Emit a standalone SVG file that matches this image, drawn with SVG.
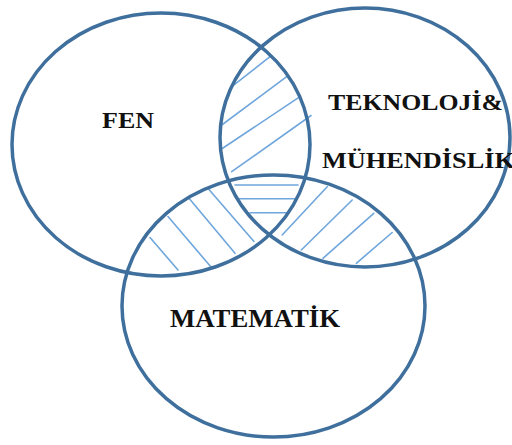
<svg xmlns="http://www.w3.org/2000/svg" width="512" height="445" viewBox="0 0 512 445">
<style>
.ring{fill:none;stroke:#3f6f9d;stroke-width:3.5}
.hatch{stroke:#6fa6dc;stroke-width:1.6;stroke-linecap:round;fill:none}
.lbl{font-family:"Liberation Serif","Times New Roman",serif;font-weight:bold;fill:#111;lengthAdjust:spacingAndGlyphs}
</style>
<rect width="512" height="445" fill="#fff"/>
<g id="hatching" class="connectors">
<g id="hatch-fen-tek">
<line class="hatch" x1="231.7" y1="86.7" x2="270" y2="56.7"/>
<line class="hatch" x1="221.7" y1="125" x2="286.7" y2="76.7"/>
<line class="hatch" x1="220" y1="150" x2="300" y2="96.7"/>
<line class="hatch" x1="231.7" y1="171.7" x2="311" y2="115.5"/>
</g>
<g id="hatch-center">
<line class="hatch" x1="235" y1="185" x2="298" y2="185"/>
<line class="hatch" x1="238" y1="198.8" x2="297" y2="198.8"/>
<line class="hatch" x1="250" y1="212.7" x2="289" y2="212.7"/>
</g>
<g id="hatch-fen-mat">
<line class="hatch" x1="150" y1="237.5" x2="178" y2="270"/>
<line class="hatch" x1="168" y1="216.5" x2="211" y2="267"/>
<line class="hatch" x1="189" y1="198.2" x2="235" y2="253.3"/>
<line class="hatch" x1="208.3" y1="188.7" x2="254" y2="241.5"/>
</g>
<g id="hatch-tek-mat">
<line class="hatch" x1="282.2" y1="235" x2="327.2" y2="186.7"/>
<line class="hatch" x1="301.3" y1="250" x2="352.2" y2="200"/>
<line class="hatch" x1="323" y1="258.3" x2="373.8" y2="213.3"/>
<line class="hatch" x1="356.3" y1="263.3" x2="392.2" y2="232.5"/>
</g>
</g>
<g id="fen">
<ellipse class="ring" cx="161" cy="144.5" rx="149" ry="131.5"/>
<text class="lbl" x="102" y="128" font-size="24" textLength="52" lengthAdjust="spacingAndGlyphs">FEN</text>
</g>
<g id="teknoloji">
<ellipse class="ring" cx="365" cy="137.5" rx="145" ry="129.5"/>
<text class="lbl" x="328" y="110" font-size="23" textLength="175" lengthAdjust="spacingAndGlyphs">TEKNOLOJİ&amp;</text>
<text class="lbl" x="322" y="168" font-size="23" textLength="193" lengthAdjust="spacingAndGlyphs">MÜHENDİSLİK</text>
</g>
<g id="matematik">
<ellipse class="ring" cx="273.5" cy="306" rx="151.5" ry="131"/>
<text class="lbl" x="170" y="327" font-size="25" textLength="170" lengthAdjust="spacingAndGlyphs">MATEMATİK</text>
</g>
</svg>
